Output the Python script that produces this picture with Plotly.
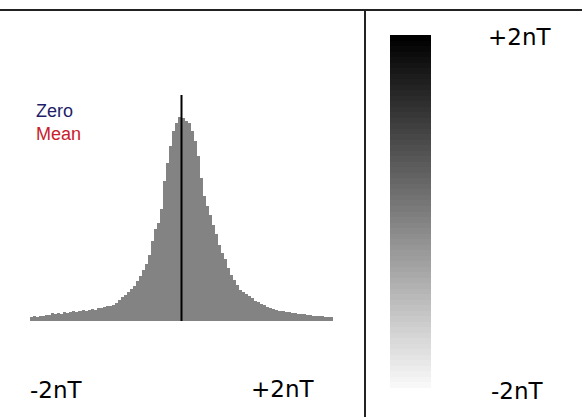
import numpy as np
import plotly.graph_objects as go

W, H = 582, 417

# ---- data ----
bin_start = -2.0
bin_width = 0.04
hist_counts = [
    4, 5, 4, 5, 5, 6, 6, 8, 7, 8,
    7, 9, 8, 9, 10, 9, 10, 11, 10, 11,
    12, 11, 13, 13, 14, 15, 15, 16, 18, 21,
    24, 26, 29, 32, 35, 40, 45, 51, 57, 66,
    80, 92, 98, 112, 140, 158, 175, 190, 198, 204,
    203, 200, 198, 190, 180, 165, 143, 125, 115, 106,
    96, 87, 76, 68, 62, 53, 46, 41, 36, 31,
    29, 27, 25, 23, 20, 19, 17, 16, 14, 13,
    12, 11, 10, 10, 9, 9, 8, 8, 7, 7,
    7, 6, 6, 5, 5, 5, 5, 4, 4, 4,
]
bin_centers = [bin_start + bin_width * (i + 0.5) for i in range(len(hist_counts))]
zero_value = 0.0
legend_labels = ["Zero", "Mean"]
legend_colors = ["#1e1e6a", "#c8202c"]
hist_tick_labels = ["-2nT", "+2nT"]
colorbar_labels = ["+2nT", "-2nT"]
colorbar_levels = np.linspace(-2.0, 2.0, 64)

fig = go.Figure()

fig.add_trace(go.Bar(
    x=bin_centers, y=hist_counts, width=bin_width,
    marker=dict(color="#838383", line=dict(width=0)),
    xaxis="x", yaxis="y", hoverinfo="skip",
))

fig.add_trace(go.Heatmap(
    z=[[v] for v in colorbar_levels], y=list(colorbar_levels), x=[0],
    colorscale=[[0, "#f8f8f8"], [1, "#000000"]], showscale=False,
    xaxis="x2", yaxis="y2", hoverinfo="skip",
))

def px_x(p):
    return p / W

def px_y(p):
    return 1 - p / H

fig.update_layout(
    width=W, height=H, margin=dict(l=0, r=0, t=0, b=0),
    paper_bgcolor="white", plot_bgcolor="white", showlegend=False,
    bargap=0,
    xaxis=dict(domain=[px_x(30), px_x(333)], range=[-2, 2], visible=False, fixedrange=True),
    yaxis=dict(domain=[px_y(321), px_y(95)], range=[0, 226], visible=False, fixedrange=True),
    xaxis2=dict(domain=[px_x(390), px_x(431)], anchor="y2", visible=False, fixedrange=True),
    yaxis2=dict(domain=[px_y(388), px_y(35)], anchor="x2", visible=False, fixedrange=True),
)

# zero line
fig.add_shape(type="line", xref="x", yref="y", x0=zero_value, x1=zero_value, y0=0, y1=226,
              line=dict(color="black", width=2))
# frame lines
fig.add_shape(type="line", xref="paper", yref="paper", x0=0, x1=1, y0=px_y(10), y1=px_y(10),
              line=dict(color="#222222", width=2))
fig.add_shape(type="line", xref="paper", yref="paper", x0=px_x(365), x1=px_x(365), y0=px_y(10), y1=0,
              line=dict(color="#222222", width=2))

big = dict(family="DejaVu Sans", size=23, color="black")
fig.add_annotation(text=hist_tick_labels[0], x=px_x(56), y=px_y(390), xref="paper", yref="paper",
                   showarrow=False, font=big, xanchor="center", yanchor="middle")
fig.add_annotation(text=hist_tick_labels[1], x=px_x(282), y=px_y(389), xref="paper", yref="paper",
                   showarrow=False, font=big, xanchor="center", yanchor="middle")
fig.add_annotation(text=colorbar_labels[0], x=px_x(519), y=px_y(37), xref="paper", yref="paper",
                   showarrow=False, font=big, xanchor="center", yanchor="middle")
fig.add_annotation(text=colorbar_labels[1], x=px_x(517), y=px_y(391), xref="paper", yref="paper",
                   showarrow=False, font=big, xanchor="center", yanchor="middle")

legend_text = "<br>".join(
    f"<span style='color:{c}'>{t}</span>" for t, c in zip(legend_labels, legend_colors)
)
fig.add_annotation(text=legend_text, x=px_x(34), y=px_y(123), xref="paper", yref="paper",
                   showarrow=False, xanchor="left", yanchor="middle", align="left",
                   font=dict(family="Liberation Sans", size=18, color=legend_colors[0]))

fig.write_html("out.html", config={"displayModeBar": False},
               post_script="document.body.style.margin='0';")
